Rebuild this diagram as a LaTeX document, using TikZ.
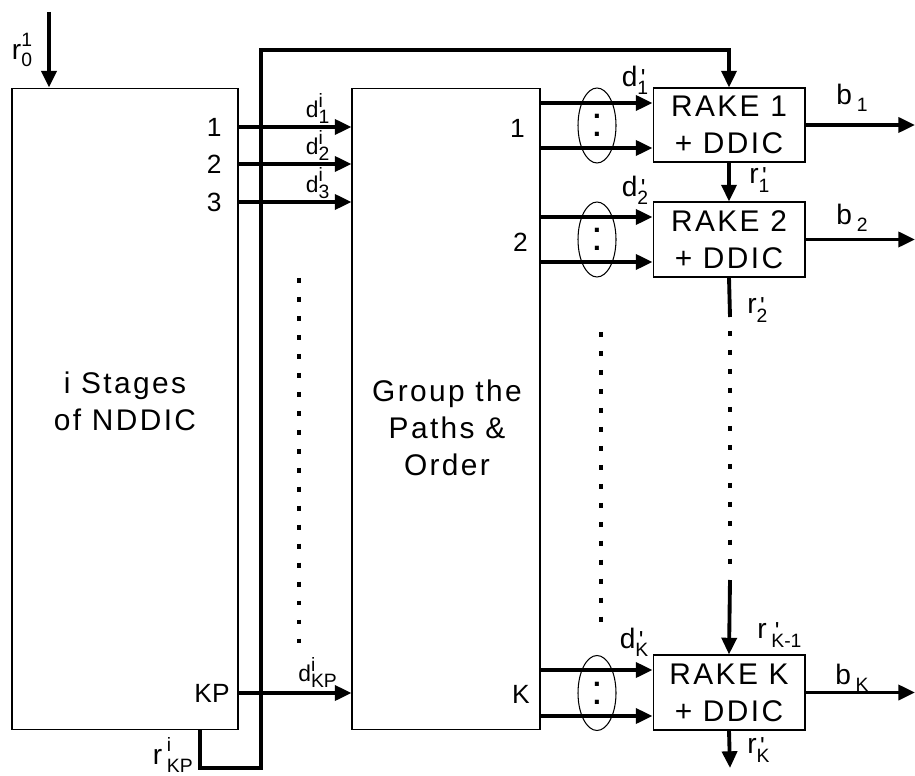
\documentclass[tikz,border=0pt]{standalone}
\usepackage{fontspec}
\setmainfont{Liberation Sans}
\newfontfamily\spaced{Liberation Sans}[LetterSpace=8]
\usetikzlibrary{arrows.meta}

% letter with stacked super- and subscript
\newcommand{\sx}[3]{#1\makebox[0pt][l]{\raisebox{0.85ex}{\fontsize{11}{11}\selectfont#2}}\raisebox{-0.5ex}{\fontsize{11}{11}\selectfont#3}}
% letter with prime and subscript
\newcommand{\sxp}[2]{#1\makebox[0pt][l]{\kern2pt\raisebox{-0.5pt}{\fontsize{14}{14}\selectfont\textquotesingle}}\raisebox{-0.55ex}{\fontsize{11}{11}\selectfont#2}}

\begin{document}
\begin{tikzpicture}[x=0.02cm,y=-0.02cm,
    blk/.style={draw,line width=0.6pt,inner sep=0pt,align=center,font=\spaced\fontsize{17}{21}\selectfont},
    sig/.style={line width=2.2pt,-{Triangle[length=9.5pt,width=8.5pt]}},
    bus/.style={line width=2.2pt},
    dotline/.style={line width=2pt,dash pattern=on 2.8pt off 8pt},
    lbl/.style={font=\fontsize{16}{18}\selectfont,inner sep=0pt},
    dlbl/.style={font=\fontsize{13}{15}\selectfont,inner sep=0pt},
    port/.style={font=\fontsize{15}{16}\selectfont,inner sep=0pt,anchor=east}]
  \useasboundingbox (0,0) rectangle (915,776);

  \node[blk,minimum width=4.52cm,minimum height=12.84cm] (stage) at (125,409) {};
  \node[blk,minimum width=3.76cm,minimum height=12.84cm] (group) at (446,409) {};
  \node[blk,minimum width=3.04cm,minimum height=1.48cm] (rake1) at (729,125) {RAKE 1\\+ DDIC};
  \node[blk,minimum width=3.04cm,minimum height=1.5cm] (rake2) at (729,239.5) {RAKE 2\\+ DDIC};
  \node[blk,minimum width=3.04cm,minimum height=1.5cm] (rakeK) at (729,692.5) {RAKE K\\+ DDIC};
  \node[align=center,font=\spaced\fontsize{17}{21}\selectfont] (stagetxt) at (125,401) {i Stages\\of NDDIC};
  \node[align=center,font=\spaced\fontsize{17}{21}\selectfont] (grouptxt) at (447,428) {Group the\\Paths \&\\Order};

  % input and feedback
  \coordinate (r0) at (49,12);
  \draw[sig] (r0) -- (r0 |- stage.north);
  \node[lbl] at (22,50) {\sx{r}{1}{0}};
  \draw[sig] (200,0 |- stage.south) -- (200,768) -- (261,768) -- (261,50) -- (rake1.north |- 0,50) -- (rake1.north);
  \node[lbl,anchor=east] at (193,755) {\sx{r\,}{i}{KP}};

  % stage outputs
  \foreach \y/\n in {127/1,164/2,202/3}{
    \node[port] at (222,\y) {\n};
    \draw[sig] (stage.east |- 0,\y) -- (group.west |- 0,\y)
      node[pos=0.7,above=1pt,dlbl] {\sx{d}{i}{\n}};
  }
  \node[port] at (230,693) {KP};
  \draw[sig] (stage.east |- 0,693) -- (group.west |- 0,693)
    node[pos=0.7,above=2pt,dlbl] {\sx{d}{i}{KP}};
  \draw[dotline] (299,278) -- (299,646);

  % grouped paths into the rakes
  \node[port] at (525,128) {1};
  \node[port] at (528,242) {2};
  \node[port] at (530,694) {K};
  \foreach \r/\ya/\yb in {rake1/103/148,rake2/217/262,rakeK/670/716}{
    \draw[sig] (group.east |- 0,\ya) -- (\r.west |- 0,\ya);
    \draw[sig] (group.east |- 0,\yb) -- (\r.west |- 0,\yb);
    \draw[line width=0.6pt] (597,{(\ya+\yb)/2}) ellipse [x radius=0.38cm,y radius=0.75cm];
    \node[font=\fontsize{24}{24}\selectfont,inner sep=0pt] at (597,{(\ya+\yb)/2}) {:};
    \draw[sig] (\r.east) -- (\r.east -| 915,0);
  }
  \draw[dotline] (601,332) -- (601,622);
  \node[lbl] at (635,80) {\sxp{d}{1}};
  \node[lbl] at (635,190) {\sxp{d}{2}};
  \node[lbl] at (634,642) {\sxp{d}{K}};
  \node[lbl] at (852,98) {\sx{b\,}{}{1}};
  \node[lbl] at (852,218) {\sx{b\,}{}{2}};
  \node[lbl] at (852,678) {\sx{b\,}{}{K}};

  % rake chain
  \draw[sig] (rake1.south) -- (rake2.north);
  \node[lbl,anchor=west] at (749,180) {\sxp{r}{1}};
  \coordinate (r2end) at (730,317);
  \coordinate (rKbeg) at (730,580);
  \draw[bus] (rake2.south) -- (r2end);
  \draw[dotline] (730,331) -- (730,574);
  \draw[sig] (rKbeg) -- (rakeK.north);
  \node[lbl,anchor=west] at (747,310) {\sxp{r}{2}};
  \node[lbl,anchor=west] at (757,635) {\sxp{r\,}{K-1}};
  \coordinate (rKout) at (730,768);
  \draw[sig] (rakeK.south) -- (rKout);
  \node[lbl,anchor=west] at (747,750) {\sxp{r}{K}};
\end{tikzpicture}
\end{document}
